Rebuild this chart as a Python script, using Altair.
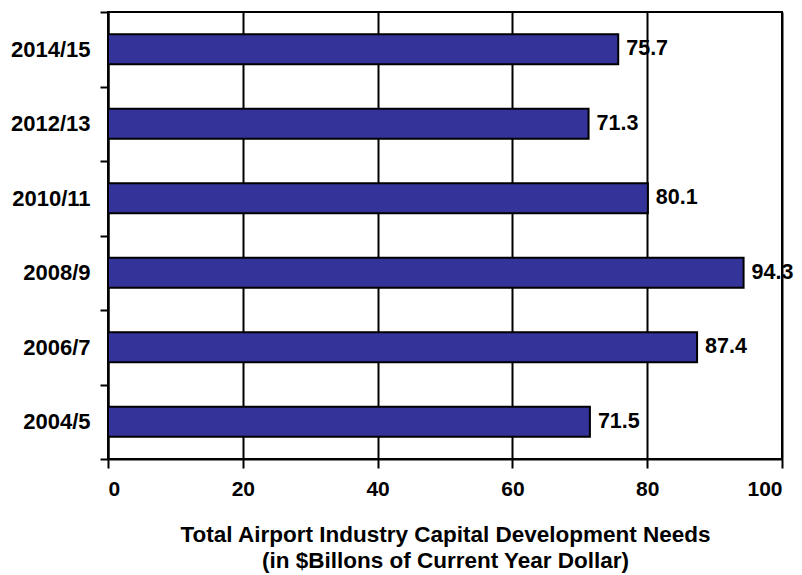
import altair as alt
import pandas as pd

periods = ["2014/15", "2012/13", "2010/11", "2008/9", "2006/7", "2004/5"]
needs = [75.7, 71.3, 80.1, 94.3, 87.4, 71.5]
x_ticks = [0, 20, 40, 60, 80, 100]

df = pd.DataFrame({"period": periods, "value": needs})
df["label"] = df["value"].map(lambda v: f"{v:.1f}")

FONT = "Liberation Sans"

y_enc = alt.Y(
    "period:N",
    sort=periods,
    scale=alt.Scale(paddingInner=0, paddingOuter=0),
    axis=alt.Axis(
        title=None,
        tickBand="extent",
        labelFont=FONT,
        labelFontWeight="bold",
        labelFontSize=22,
        labelColor="black",
        labelPadding=10,
        tickSize=8,
        tickColor="black",
        tickWidth=2,
        domainColor="black",
        domainWidth=2,
        grid=False,
    ),
)

x_enc = alt.X(
    "value:Q",
    scale=alt.Scale(domain=[0, 100], nice=False),
    axis=alt.Axis(
        values=x_ticks,
        title=["Total Airport Industry Capital Development Needs",
               "(in $Billons of Current Year Dollar)"],
        titleFont=FONT,
        titleFontWeight="bold",
        titleFontSize=22.5,
        titleColor="black",
        titlePadding=24,
        titleLineHeight=26,
        labelFont=FONT,
        labelFontWeight="bold",
        labelFontSize=21,
        labelColor="black",
        labelPadding=10,
        tickSize=9,
        tickColor="black",
        tickWidth=2,
        domainColor="black",
        domainWidth=2,
        grid=True,
        gridColor="black",
        gridWidth=2,
        gridOpacity=1,
    ),
)

bars = alt.Chart(df).mark_bar(
    size=30, color="#333399", stroke="black", strokeWidth=2
).encode(x=x_enc, y=y_enc)

labels = alt.Chart(df).mark_text(
    align="left", baseline="middle", dx=8, font=FONT, fontWeight="bold",
    fontSize=21.5, color="black"
).encode(x="value:Q", y=alt.Y("period:N", sort=periods), text="label:N")

chart = (bars + labels).properties(
    width=674,
    height=447,
    autosize=alt.AutoSizeParams(type="none"),
    padding={"left": 100, "top": 4, "right": 12, "bottom": 130},
    background="white",
).configure_view(stroke="black", strokeWidth=2)

chart.save("out.html", embed_options={"renderer": "svg", "actions": False})
